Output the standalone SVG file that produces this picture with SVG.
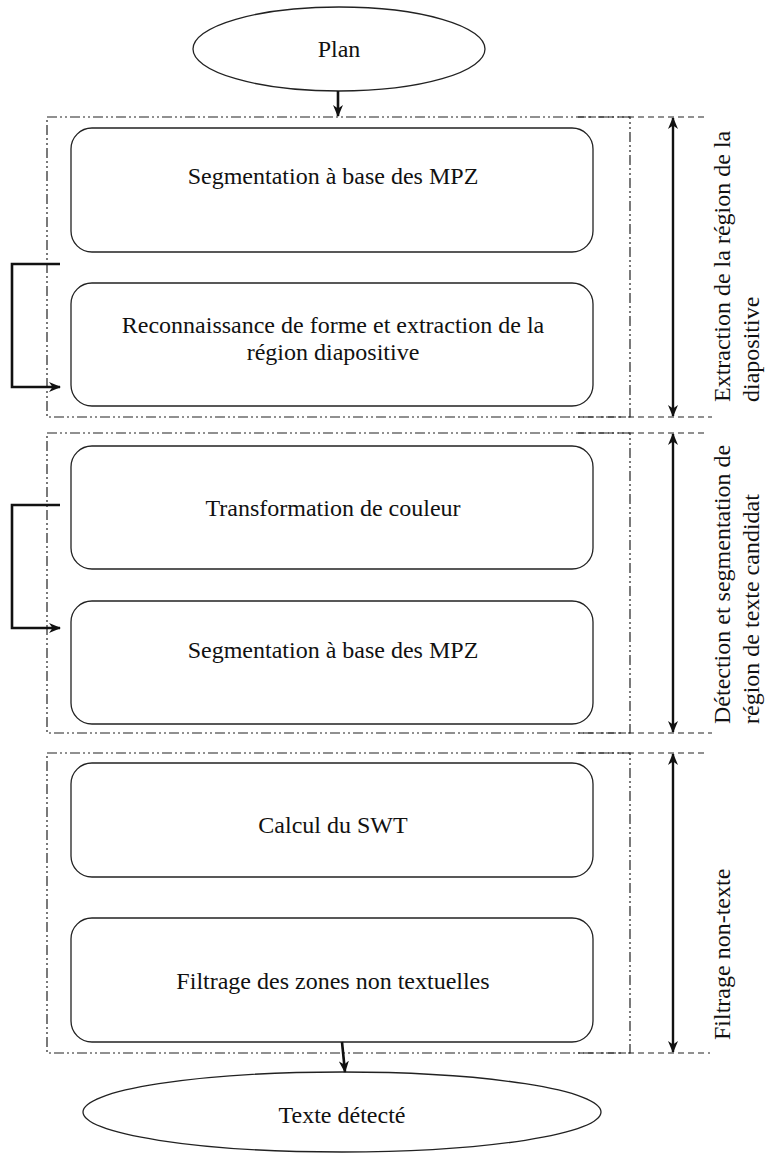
<svg xmlns="http://www.w3.org/2000/svg" width="765" height="1153" viewBox="0 0 765 1153">
  <style>
    text { font-family: "Liberation Serif", "Times New Roman", serif; font-size: 24px; fill: #111; }
    .lbl { text-anchor: middle; }
    .node { fill: #fff; stroke: #222; stroke-width: 1.3; }
    .sec { fill: none; stroke: #222; stroke-width: 1.2; stroke-dasharray: 10 3 2 3 2 3; }
    .ext { fill: none; stroke: #222; stroke-width: 1.2; stroke-dasharray: 6 4; }
    .flow { fill: none; stroke: #111; stroke-width: 2.6; }
    .span { fill: none; stroke: #111; stroke-width: 2.4; }
  </style>
  <defs>
    <marker id="head" viewBox="0 0 12 10" refX="11" refY="5" markerWidth="12" markerHeight="10" markerUnits="userSpaceOnUse" orient="auto-start-reverse">
      <path d="M0,0 L12,5 L0,10 L3.5,5 z" fill="#111"/>
    </marker>
  </defs>

  <!-- section frames: dash-dot-dot box plus dashed extension to the right -->
  <g id="frames">
    <rect class="sec" x="47" y="117" width="583" height="300"/>
    <path class="ext" d="M578,117 H707 M578,417 H712"/>
    <rect class="sec" x="47" y="433" width="583" height="300"/>
    <path class="ext" d="M578,433 H705 M578,733 H712"/>
    <rect class="sec" x="47" y="753" width="583" height="300"/>
    <path class="ext" d="M578,753 H705 M578,1053 H710"/>
  </g>

  <g id="plan">
    <ellipse class="node" cx="339" cy="49" rx="146" ry="42"/>
    <text class="lbl" x="339" y="57">Plan</text>
  </g>

  <g id="n1">
    <rect class="node" x="71" y="128" width="522" height="124" rx="21"/>
    <text class="lbl" x="333" y="184">Segmentation à base des MPZ</text>
  </g>
  <g id="n2">
    <rect class="node" x="71" y="283" width="522" height="123" rx="21"/>
    <text class="lbl" x="333" y="333">Reconnaissance de forme et extraction de la</text>
    <text class="lbl" x="333" y="360">région diapositive</text>
  </g>
  <g id="n3">
    <rect class="node" x="71" y="446" width="522" height="123" rx="21"/>
    <text class="lbl" x="333" y="516">Transformation de couleur</text>
  </g>
  <g id="n4">
    <rect class="node" x="71" y="601" width="522" height="123" rx="21"/>
    <text class="lbl" x="333" y="658">Segmentation à base des MPZ</text>
  </g>
  <g id="n5">
    <rect class="node" x="71" y="763" width="522" height="114" rx="21"/>
    <text class="lbl" x="333" y="833">Calcul du SWT</text>
  </g>
  <g id="n6">
    <rect class="node" x="71" y="918" width="522" height="124" rx="21"/>
    <text class="lbl" x="333" y="989">Filtrage des zones non textuelles</text>
  </g>

  <g id="result">
    <ellipse class="node" cx="342" cy="1112" rx="259" ry="40"/>
    <text class="lbl" x="342" y="1123">Texte détecté</text>
  </g>

  <!-- stage labels -->
  <g id="stage1">
    <text transform="translate(730,402) rotate(-90)">Extraction de la région de la<tspan x="0" dy="29">diapositive</tspan></text>
  </g>
  <g id="stage2">
    <text transform="translate(730,724) rotate(-90)">Détection et segmentation de<tspan x="0" dy="29">région de texte candidat</tspan></text>
  </g>
  <g id="stage3">
    <text transform="translate(730,1040) rotate(-90)">Filtrage non-texte</text>
  </g>

  <g id="connectors">
    <path class="flow" d="M338,91 V116" marker-end="url(#head)"/>
    <path class="flow" d="M342,1042 L345,1072" marker-end="url(#head)"/>
    <path class="flow" d="M60,264 H12 V387 H60" marker-end="url(#head)"/>
    <path class="flow" d="M60,505 H12 V628 H60" marker-end="url(#head)"/>
    <path class="span" d="M673,118 V416" marker-start="url(#head)" marker-end="url(#head)"/>
    <path class="span" d="M673,434 V732" marker-start="url(#head)" marker-end="url(#head)"/>
    <path class="span" d="M673,754 V1052" marker-start="url(#head)" marker-end="url(#head)"/>
  </g>
</svg>
